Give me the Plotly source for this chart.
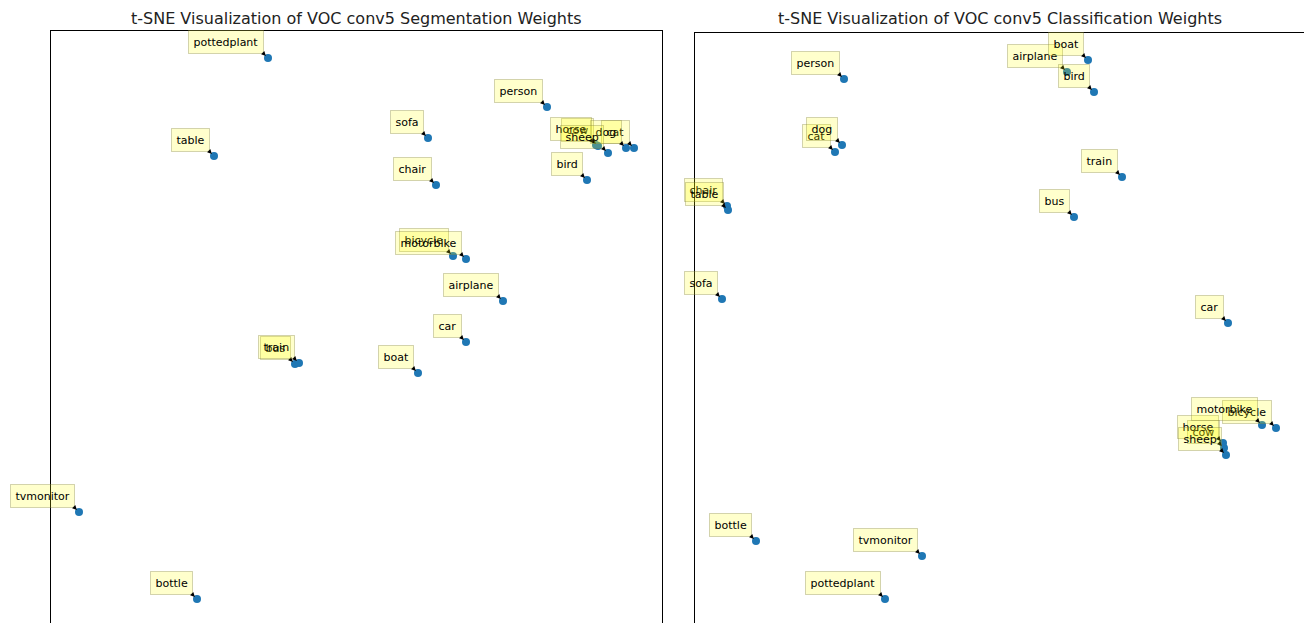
import plotly.graph_objects as go

# VOC classes, in the order the labels are drawn (later ones sit on top)
classes = ["airplane", "bicycle", "bird", "boat", "bottle", "bus", "car", "cat", "chair",
           "cow", "table", "dog", "horse", "motorbike", "person", "pottedplant", "sheep",
           "sofa", "train", "tvmonitor"]

# 2-D t-SNE embedding of the segmentation weights (arbitrary units)
seg_x = [452, 402, 536, 367, 146, 244, 415, 583, 385, 547, 163, 575, 545, 415, 496, 217,
         557, 377, 248, 28]
seg_y = [322, 367, 443, 250, 24, 259, 281, 475, 438, 477, 467, 475, 478, 364, 516, 565,
         470, 485, 260, 111]

# 2-D t-SNE embedding of the classification weights
cls_x = [372, 581, 399, 393, 61, 379, 533, 140, 32, 529, 33, 147, 528, 567, 149, 190,
         531, 27, 427, 227]
cls_y = [551, 195, 531, 563, 82, 406, 300, 471, 417, 175, 413, 478, 180, 198, 544, 24,
         168, 324, 446, 67]

titles = ["t-SNE Visualization of VOC conv5 Segmentation Weights",
          "t-SNE Visualization of VOC conv5 Classification Weights"]

W, H = 1304, 623
FONT = "DejaVu Sans"

fig = go.Figure()

panels = [
    (seg_x, seg_y, "x", "y", [51 / W, 662 / W], [0, 1 - 31 / H], [0, 611], [0, 592]),
    (cls_x, cls_y, "x2", "y2", [695 / W, 1.0], [0, 1 - 33 / H], [0, 609], [0, 590]),
]

annotations = []
for i, (xs, ys, xr, yr, xdom, ydom, xrng, yrng) in enumerate(panels):
    fig.add_trace(go.Scatter(
        x=xs, y=ys, mode="markers", xaxis=xr, yaxis=yr,
        marker=dict(color="#1f77b4", size=8),
        showlegend=False, hoverinfo="text", text=classes,
    ))
    sfx = "" if i == 0 else "2"
    fig.layout["xaxis" + sfx] = dict(
        domain=xdom, range=xrng, side="top", showline=True, linecolor="black",
        linewidth=1, showticklabels=False, ticks="", showgrid=False, zeroline=False,
        anchor="y" + sfx,
    )
    fig.layout["yaxis" + sfx] = dict(
        domain=ydom, range=yrng, showline=True, mirror=True, linecolor="black",
        linewidth=1, showticklabels=False, ticks="", showgrid=False, zeroline=False,
        anchor="x" + sfx,
    )
    for lab, px, py in zip(classes, xs, ys):
        annotations.append(dict(
            x=px, y=py, xref=xr, yref=yr, text=lab,
            showarrow=True, ax=-4, ay=-4, xanchor="right", yanchor="bottom",
            arrowhead=2, arrowsize=0.9, arrowwidth=1, arrowcolor="black", standoff=3,
            bgcolor="rgba(255,255,0,0.2)", bordercolor="rgba(130,130,60,0.35)",
            borderwidth=1, borderpad=4.5,
            font=dict(family=FONT, size=11, color="black"),
        ))
    annotations.append(dict(
        x=(xdom[0] + xdom[1]) / 2, y=1 - 18 / H, xref="paper", yref="paper",
        text=titles[i], showarrow=False, xanchor="center", yanchor="middle",
        font=dict(family=FONT, size=16, color="#222222"),
    ))

fig.update_layout(
    width=W, height=H,
    margin=dict(l=0, r=0, t=0, b=0),
    plot_bgcolor="white", paper_bgcolor="white",
    annotations=annotations,
)

# drop the default page margin so the figure sits at the window's corner
fig.write_html("out.html", config={"displayModeBar": False},
               post_script="document.body.style.margin='0';"
               "document.body.style.overflow='hidden';")
